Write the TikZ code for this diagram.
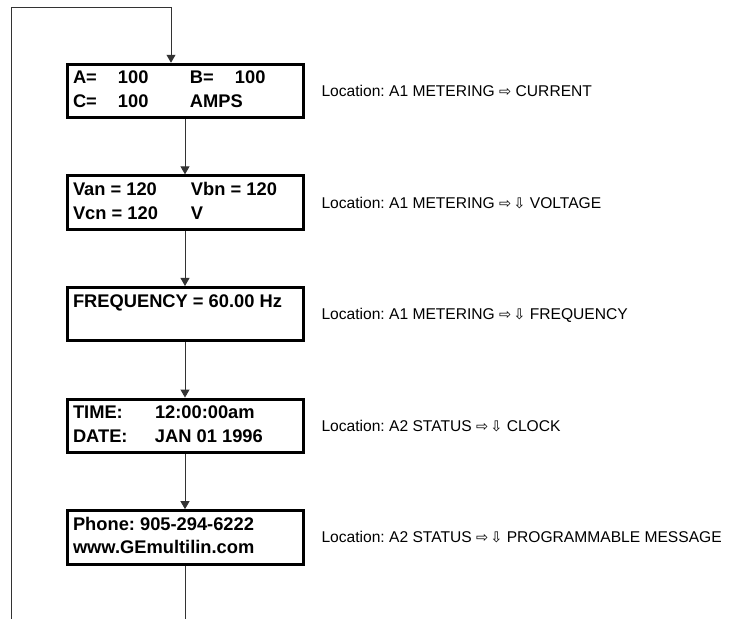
\documentclass[tikz,border=0pt]{standalone}
\usepackage{fontspec}
\setmainfont{Liberation Sans}
\newfontfamily\arrowfont{DejaVu Sans}
\usetikzlibrary{positioning,arrows.meta}
\frenchspacing

% menu path arrows
\newcommand{\rgt}{{\arrowfont\fontsize{14.5}{14.5}\selectfont ⇨}}
\newcommand{\dwn}{{\arrowfont\fontsize{14.5}{14.5}\selectfont\kern2pt ⇩}}

\tikzset{
  lcd/.style={draw, line width=3pt, minimum width=236pt, minimum height=53.5pt,
    inner xsep=6pt, inner ysep=0pt, font=\bfseries\fontsize{18.3}{23.5}\selectfont},
  loc/.style={inner sep=0pt, outer sep=0pt, text height=11pt, text depth=0pt,
    font=\fontsize{15.6}{18}\selectfont},
  flow/.style={line width=0.9pt, black!80},
  tip/.style={-{Triangle[width=9pt,length=8pt]}}
}

\begin{document}
\begin{tikzpicture}[x=1pt, y=-1pt]
  \useasboundingbox (0,0) rectangle (729,619);

  % Screen 1
  \node[lcd] (cur) at (185,91) {
    \begin{tabular}{@{}p{45pt}@{}p{72pt}@{}p{45pt}@{}p{62pt}@{}}
      A= & 100 & B= & 100 \\
      C= & 100 & AMPS &
    \end{tabular}
  };

  % Screen 2
  \node[lcd] (volt) at (185,202.6) {
    \begin{tabular}{@{}p{118pt}@{}p{106pt}@{}}
      Van = 120 & Vbn = 120 \\
      Vcn = 120 & V
    \end{tabular}
  };

  % Screen 3
  \node[lcd] (freq) at (185,314.2) {
    \begin{tabular}{@{}p{224pt}@{}}
      FREQUENCY = 60.00 Hz \\
      {}
    \end{tabular}
  };

  % Screen 4
  \node[lcd] (clk) at (185,425.8) {
    \begin{tabular}{@{}p{82pt}@{}p{142pt}@{}}
      TIME: & 12:00:00am \\
      DATE: & JAN 01 1996
    \end{tabular}
  };

  % Screen 5
  \node[lcd] (msg) at (185,537.4) {
    \begin{tabular}{@{}p{224pt}@{}}
      Phone: 905-294-6222 \\
      www.GEmultilin.com
    \end{tabular}
  };

  % locations
  \node[loc, right=17pt of cur] (curloc) {Location: A1 METERING \rgt{} CURRENT};
  \node[loc, right=17pt of volt] (voltloc) {Location: A1 METERING \rgt\dwn{} VOLTAGE};
  \node[loc, right=17pt of freq] (freqloc) {Location: A1 METERING \rgt\dwn{} FREQUENCY};
  \node[loc, right=17pt of clk] (clkloc) {Location: A2 STATUS \rgt\dwn{} CLOCK};
  \node[loc, right=17pt of msg] (msgloc) {Location: A2 STATUS \rgt\dwn{} PROGRAMMABLE MESSAGE};

  % scrolling sequence
  \draw[flow, tip] (cur) -- (volt);
  \draw[flow, tip] (volt) -- (freq);
  \draw[flow, tip] (freq) -- (clk);
  \draw[flow, tip] (clk) -- (msg);
  \coordinate (tail) at (185,619);
  \draw[flow] (msg) -- (tail);

  % wrap back to the top
  \coordinate (back) at (11,619);
  \coordinate (turn) at (11,7);
  \draw[flow, tip] (back) -- (turn) -| ([xshift=-14pt]cur.north);
\end{tikzpicture}
\end{document}
